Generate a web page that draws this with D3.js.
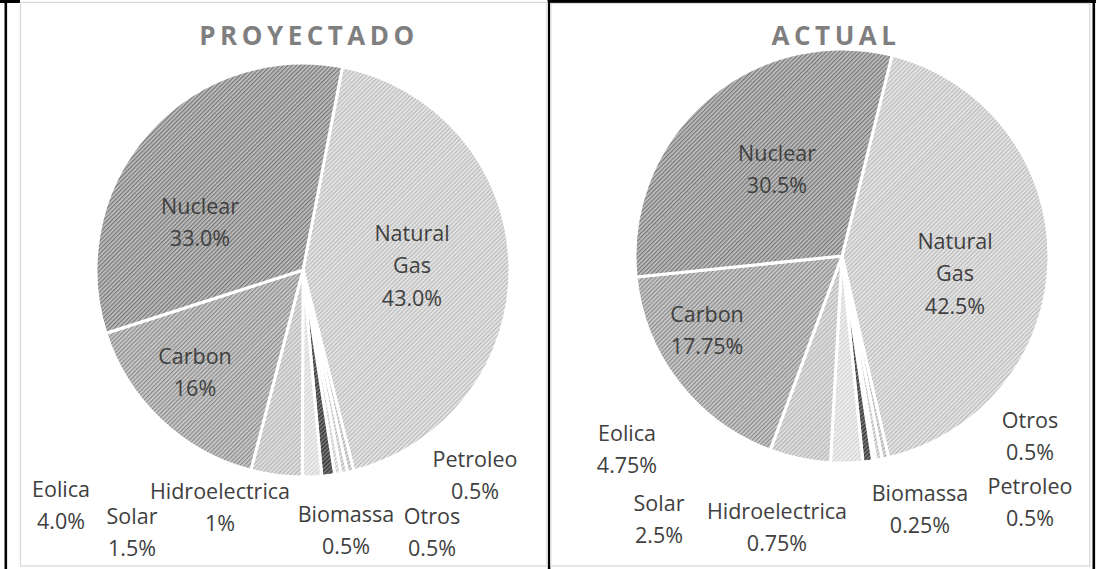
<!DOCTYPE html>
<html>
<head>
<meta charset="utf-8">
<script src="https://cdn.jsdelivr.net/npm/d3@7"></script>
<style>
  body { margin: 0; background: #fff; }
  svg { display: block; }
  text { font-family: "Open Sans", Lato, sans-serif; }
</style>
</head>
<body>
<div class="canvas"></div>
<script>
// data
const categories = ["Natural Gas", "Petroleo", "Otros", "Biomassa", "Hidroelectrica", "Solar", "Eolica", "Carbon", "Nuclear"];
const proyectadoValues = [43.0, 0.5, 0.5, 0.5, 1, 1.5, 4.0, 16, 33.0];
const proyectadoLabels = ["43.0%", "0.5%", "0.5%", "0.5%", "1%", "1.5%", "4.0%", "16%", "33.0%"];
const actualValues = [42.5, 0.5, 0.5, 0.25, 0.75, 2.5, 4.75, 17.75, 30.5];
const actualLabels = ["42.5%", "0.5%", "0.5%", "0.25%", "0.75%", "2.5%", "4.75%", "17.75%", "30.5%"];
const titles = ["PROYECTADO", "ACTUAL"];

const dims = { width: 1102, height: 569 };

const svg = d3
  .select(".canvas")
  .append("svg")
  .attr("width", dims.width)
  .attr("height", dims.height);

// hatch fills (stripe colour, background colour) per category
const hatch = d3
  .scaleOrdinal()
  .domain(categories)
  .range([
    ["#b9b9b9", "#e9e9e9"],
    ["#a9a9a9", "#e4e4e4"],
    ["#b4b4b4", "#e8e8e8"],
    ["#c4c4c4", "#efefef"],
    ["#2f2f2f", "#7c7c7c"],
    ["#d2d2d2", "#f1f1f1"],
    ["#b4b4b4", "#e3e3e3"],
    ["#8a8a8a", "#cdcdcd"],
    ["#777777", "#c2c2c2"],
  ]);

const defs = svg.append("defs");
categories.forEach((c, i) => {
  const [fg, bg] = hatch(c);
  const p = defs
    .append("pattern")
    .attr("id", "hatch" + i)
    .attr("patternUnits", "userSpaceOnUse")
    .attr("width", 3)
    .attr("height", 3)
    .attr("patternTransform", "rotate(45)");
  p.append("rect").attr("width", 3).attr("height", 3).attr("fill", bg);
  p.append("rect").attr("width", 1.3).attr("height", 3).attr("fill", fg);
});

// table borders (the charts sit on top of a word table)
svg.append("rect").attr("x", 0).attr("y", 0).attr("width", 1096).attr("height", 3).attr("fill", "#000");
[4.5, 547.8, 1092.5].forEach((x) => {
  svg.append("rect").attr("x", x).attr("y", 0).attr("width", 2.6).attr("height", dims.height).attr("fill", "#000");
});

// chart frames
const frames = [
  { x: 20.5, y: 2.5, w: 526.5, h: 563.5, top: 0 },
  { x: 550.8, y: 3.5, w: 539, h: 562.5, top: 3 },
];

// pie placement per chart
const pies = [
  { cx: 303, cy: 270, r: 207, start: 11, titleX: 309, values: proyectadoValues, labels: proyectadoLabels },
  { cx: 842, cy: 256, r: 207, start: 14, titleX: 836, values: actualValues, labels: actualLabels },
];

// label anchors (centre of first text line), per chart
const labelPos = [
  {
    "Natural Gas": [412, 232], Nuclear: [200, 205], Carbon: [195, 355],
    Eolica: [61, 488], Solar: [132, 515], Hidroelectrica: [220, 490],
    Biomassa: [346, 513], Otros: [432, 515], Petroleo: [475, 458],
  },
  {
    "Natural Gas": [955, 240], Nuclear: [777, 152], Carbon: [707, 313],
    Eolica: [627, 432], Solar: [659, 502], Hidroelectrica: [777, 510],
    Biomassa: [920, 492], Otros: [1030, 419], Petroleo: [1030, 485],
  },
];

const lineGap = 32.5;

pies.forEach((cfg, k) => {
  const f = frames[k];
  svg.append("rect").attr("x", f.x - 0.5).attr("y", f.top).attr("width", f.w + 1).attr("height", f.y + f.h - f.top).attr("fill", "#fff");
  svg.append("rect")
    .attr("x", f.x).attr("y", f.y).attr("width", f.w).attr("height", f.h)
    .attr("fill", "none").attr("stroke", "#d9d9d9").attr("stroke-width", 1.3);

  svg.append("text")
    .attr("x", cfg.titleX)
    .attr("y", 35)
    .attr("text-anchor", "middle")
    .attr("dominant-baseline", "central")
    .attr("font-family", "Lato, sans-serif")
    .attr("font-size", 26)
    .attr("font-weight", "bold")
    .attr("letter-spacing", 4.5)
    .attr("fill", "#7f7f7f")
    .text(titles[k]);

  const data = categories.map((c, i) => ({ name: c, value: cfg.values[i], label: cfg.labels[i], idx: i }));

  const pie = d3
    .pie()
    .sort(null)
    .value((d) => d.value)
    .startAngle((cfg.start * Math.PI) / 180)
    .endAngle(((cfg.start + 360) * Math.PI) / 180);

  const arcPath = d3.arc().innerRadius(0).outerRadius(cfg.r);

  const graph = svg.append("g").attr("transform", `translate(${cfg.cx}, ${cfg.cy})`);

  graph
    .selectAll("path")
    .data(pie(data))
    .enter()
    .append("path")
    .attr("d", arcPath)
    .attr("fill", (d) => `url(#hatch${d.data.idx})`)
    .attr("stroke", "#fff")
    .attr("stroke-width", 3)
    .attr("stroke-linejoin", "round");

  // data labels
  data.forEach((d) => {
    const [lx, ly] = labelPos[k][d.name];
    const lines = d.name === "Natural Gas" ? ["Natural", "Gas", d.label] : [d.name, d.label];
    const t = svg.append("text")
      .attr("text-anchor", "middle")
      .attr("font-size", 21.5)
      .attr("fill", "#404040");
    lines.forEach((s, j) => {
      t.append("tspan")
        .attr("x", lx)
        .attr("y", ly + j * lineGap)
        .attr("dominant-baseline", "central")
        .text(s);
    });
  });
});
</script>
</body>
</html>
